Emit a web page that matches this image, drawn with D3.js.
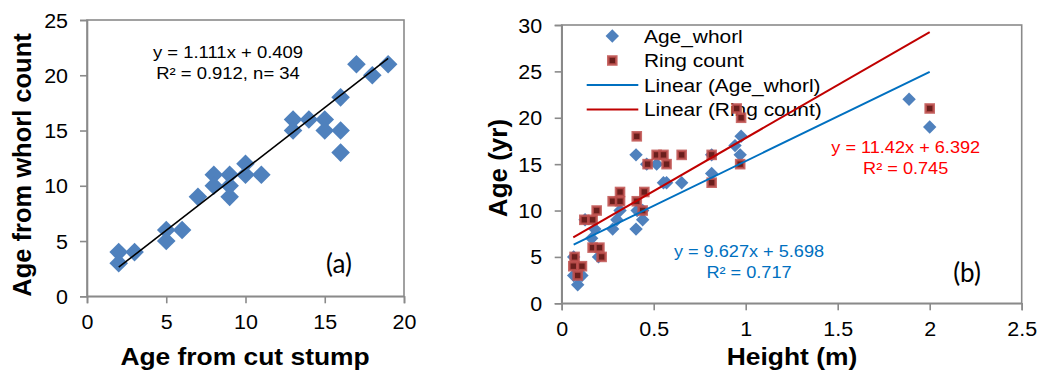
<!DOCTYPE html>
<html>
<head>
<meta charset="utf-8">
<script src="https://cdn.jsdelivr.net/npm/d3@7"></script>
<style>
  html, body { margin: 0; padding: 0; background: #fff; }
  svg { display: block; }
  text { font-family: "Liberation Sans", Arial, Helvetica; }
</style>
</head>
<body>
<svg id="chart" width="1041" height="378"></svg>
<script>
// Panel (a): age from cut stump vs. age from whorl count
const stumpAge = [2, 2, 3, 5, 5, 6, 7, 8, 8, 9, 9, 9, 10, 10, 11, 13, 13, 14, 15, 15, 16, 16, 16, 17, 18, 19];
const whorlAge = [4, 3, 4, 6, 5, 6, 9, 11, 10, 11, 10, 9, 12, 11, 11, 16, 15, 16, 16, 15, 18, 15, 13, 21, 20, 21];
const fitA = { slope: 1.111, intercept: 0.409, r2: 0.912, n: 34 };
const ticksAX = [0, 5, 10, 15, 20];
const ticksAY = [0, 5, 10, 15, 20, 25];

// Panel (b): height vs. age, two methods
const whorlHeight = [0.065, 0.087, 0.11, 0.065, 0.127, 0.163, 0.18, 0.2, 0.277, 0.3, 0.317, 0.404, 0.404, 0.41, 0.44, 0.44, 0.462, 0.516, 0.553, 0.57, 0.652, 0.815, 0.815, 0.942, 0.97, 0.975, 1.888, 2.0];
const whorlAgeB   = [3, 2, 3, 5, 9, 7, 8, 5, 8, 9, 10, 8, 16, 10, 9, 10, 15, 15, 13, 13, 13, 14, 16, 17, 16, 18, 22, 19];
const ringHeight  = [0.07, 0.063, 0.11, 0.087, 0.123, 0.168, 0.19, 0.168, 0.205, 0.217, 0.277, 0.317, 0.317, 0.408, 0.408, 0.44, 0.449, 0.467, 0.516, 0.553, 0.57, 0.652, 0.815, 0.815, 0.951, 0.975, 0.97, 2.0];
const ringAge     = [5, 4, 4, 3, 9, 9, 10, 6, 6, 5, 11, 11, 12, 11, 18, 10, 12, 15, 16, 16, 15, 16, 16, 13, 21, 20, 15, 21];
const fitWhorl = { slope: 9.627, intercept: 5.698, r2: 0.717 };
const fitRing  = { slope: 11.42, intercept: 6.392, r2: 0.745 };
const ticksBX = [0, 0.5, 1, 1.5, 2, 2.5];
const ticksBY = [0, 5, 10, 15, 20, 25, 30];
const legendLabels = ["Age_whorl", "Ring count", "Linear (Age_whorl)", "Linear (Ring count)"];

const SX = 1.1;            // horizontal text widening
const AXIS_GREY = "#8a8a8a";
const BLUE_MARK = "#4f81bd";
const FONT = '"Liberation Sans", Arial, Helvetica';

const svg = d3.select("#chart");

function stext(g, x, y, str, size, opts = {}) {
  const t = g.append("text")
    .attr("transform", `translate(${x},${y}) scale(${opts.sx || SX},1)`)
    .attr("font-size", size)
    .attr("text-anchor", opts.anchor || "middle")
    .attr("fill", opts.fill || "#000")
    .style("font-family", opts.family || FONT)
    .text(str);
  if (opts.bold) t.attr("font-weight", "bold");
  return t;
}

function diamond(g, cx, cy, half, fill) {
  const s = half * Math.SQRT2;
  g.append("path")
    .attr("d", d3.symbol(d3.symbolSquare, s * s)())
    .attr("transform", `translate(${cx},${cy}) rotate(45)`)
    .attr("fill", fill);
}

function ringSquare(g, cx, cy) {
  g.append("rect")
    .attr("x", cx - 4).attr("y", cy - 4)
    .attr("width", 8).attr("height", 8)
    .attr("fill", "#6a1f1d")
    .attr("stroke", "#c0504d")
    .attr("stroke-opacity", 0.85)
    .attr("stroke-width", 2.6);
}

function drawAxes(g, x, y, xt, yt, xFmt, yLabelOffset, xLabelOffset) {
  const [x0, x1] = x.range();
  const [y0, y1] = y.range();
  // plot frame
  g.append("rect")
    .attr("x", x0).attr("y", y1)
    .attr("width", x1 - x0).attr("height", y0 - y1)
    .attr("fill", "none").attr("stroke", AXIS_GREY).attr("stroke-width", 1.6);

  const ax = g.append("g").attr("transform", `translate(0,${y0})`)
    .call(d3.axisBottom(x).tickValues(xt).tickSize(7).tickFormat(xFmt));
  const ay = g.append("g").attr("transform", `translate(${x0},0)`)
    .call(d3.axisLeft(y).tickValues(yt).tickSize(7));
  [ax, ay].forEach(a => {
    a.attr("font-family", null);
    a.select(".domain").attr("stroke", AXIS_GREY).attr("stroke-width", 1.6);
    a.selectAll(".tick line").attr("stroke", AXIS_GREY).attr("stroke-width", 1.6);
    a.selectAll(".tick text")
      .attr("font-size", 19.5)
      .attr("fill", "#000")
      .style("font-family", FONT);
  });
  ax.selectAll(".tick text")
    .attr("y", xLabelOffset).attr("dy", null)
    .attr("transform", `scale(${SX},1)`);
  ay.selectAll(".tick text")
    .attr("x", yLabelOffset / SX).attr("dy", "0.36em")
    .attr("transform", `scale(${SX},1)`);
}

// ---------- Panel (a) ----------
const gA = svg.append("g");
const xA = d3.scaleLinear().domain([0, 20]).range([87, 404]);
const yA = d3.scaleLinear().domain([0, 25]).range([296.3, 20]);
drawAxes(gA, xA, yA, ticksAX, ticksAY, d3.format("d"), -19, 33);

stumpAge.forEach((v, i) => diamond(gA, xA(v), yA(whorlAge[i]), 9.3, BLUE_MARK));

const extA = d3.extent(stumpAge);
gA.append("line")
  .attr("x1", xA(extA[0])).attr("y1", yA(fitA.slope * extA[0] + fitA.intercept))
  .attr("x2", xA(extA[1])).attr("y2", yA(fitA.slope * extA[1] + fitA.intercept))
  .attr("stroke", "#000").attr("stroke-width", 1.6);

stext(gA, 228, 57.5, `y = ${fitA.slope}x + ${fitA.intercept}`, 16.5, { sx: 1.12 });
stext(gA, 228, 78.5, `R² = ${fitA.r2}, n= ${fitA.n}`, 16.5, { sx: 1.12 });
stext(gA, 339, 273, "(a)", 26, { family: "Lato, 'Open Sans'", sx: 1 });

stext(gA, 245, 365, "Age from cut stump", 24, { bold: true });
gA.append("text")
  .attr("transform", "translate(31,165) rotate(-90)")
  .attr("text-anchor", "middle")
  .attr("font-size", 25.5).attr("font-weight", "bold")
  .style("font-family", FONT)
  .text("Age from whorl count");

// ---------- Panel (b) ----------
const gB = svg.append("g");
const xB = d3.scaleLinear().domain([0, 2.5]).range([561.7, 1021.7]);
const yB = d3.scaleLinear().domain([0, 30]).range([303.3, 25]);
drawAxes(gB, xB, yB, ticksBX, ticksBY, d3.format(""), -19.5, 33);

// legend
const legX = 612.3, legTextX = 644, legY = [36, 60.5, 85, 109.5];
diamond(gB, legX, legY[0], 6.7, BLUE_MARK);
ringSquare(gB, legX, legY[1]);
gB.append("line").attr("x1", 586.7).attr("x2", 638.3).attr("y1", legY[2]).attr("y2", legY[2])
  .attr("stroke", "#0070c0").attr("stroke-width", 2);
gB.append("line").attr("x1", 586.7).attr("x2", 638.3).attr("y1", legY[3]).attr("y2", legY[3])
  .attr("stroke", "#c00000").attr("stroke-width", 2);
legendLabels.forEach((lab, i) => stext(gB, legTextX, legY[i] + 6.8, lab, 19, { anchor: "start" }));

whorlHeight.forEach((h, i) => diamond(gB, xB(h), yB(whorlAgeB[i]), 6.7, BLUE_MARK));
ringHeight.forEach((h, i) => ringSquare(gB, xB(h), yB(ringAge[i])));

const extW = d3.extent(whorlHeight);
const extR = d3.extent(ringHeight);
gB.append("line")
  .attr("x1", xB(extW[0])).attr("y1", yB(fitWhorl.slope * extW[0] + fitWhorl.intercept))
  .attr("x2", xB(extW[1])).attr("y2", yB(fitWhorl.slope * extW[1] + fitWhorl.intercept))
  .attr("stroke", "#0070c0").attr("stroke-width", 2);
gB.append("line")
  .attr("x1", xB(extR[0])).attr("y1", yB(fitRing.slope * extR[0] + fitRing.intercept))
  .attr("x2", xB(extR[1])).attr("y2", yB(fitRing.slope * extR[1] + fitRing.intercept))
  .attr("stroke", "#c00000").attr("stroke-width", 2);

stext(gB, 905.7, 153.3, `y = ${fitRing.slope}x + ${fitRing.intercept}`, 16.5, { fill: "#ff0000" });
stext(gB, 905.7, 174.3, `R² = ${fitRing.r2}`, 16.5, { fill: "#ff0000" });
stext(gB, 749, 257.3, `y = ${fitWhorl.slope}x + ${fitWhorl.intercept}`, 16.5, { fill: "#0070c0" });
stext(gB, 749, 278.3, `R² = ${fitWhorl.r2}`, 16.5, { fill: "#0070c0" });
stext(gB, 967, 282, "(b)", 26, { family: "Lato, 'Open Sans'", sx: 1 });

stext(gB, 792, 365, "Height (m)", 24, { bold: true });
gB.append("text")
  .attr("transform", "translate(507,168) rotate(-90)")
  .attr("text-anchor", "middle")
  .attr("font-size", 26).attr("font-weight", "bold")
  .style("font-family", FONT)
  .text("Age (yr)");
</script>
</body>
</html>
